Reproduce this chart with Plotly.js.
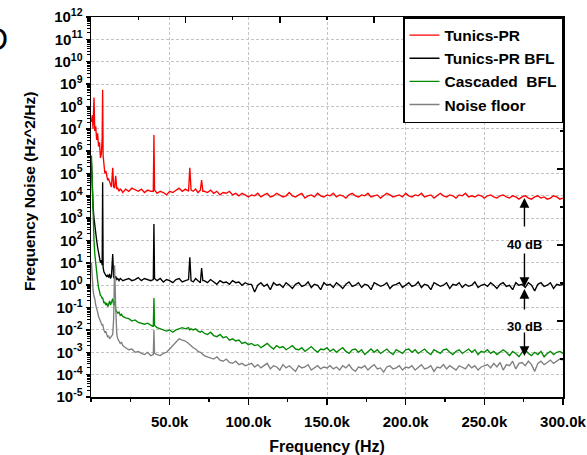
<!DOCTYPE html>
<html>
<head>
<meta charset="utf-8">
<script src="https://cdn.plot.ly/plotly-3.0.1.min.js"></script>
<style>html,body{margin:0;padding:0;background:#fff;}#chart{width:587px;height:455px;}</style>
</head>
<body>
<div id="chart"></div>
<script>
// Frequency axis (kHz)
const freqKHz = [
  0.3,0.8,1.3,1.9,2.4,3.0,3.6,4.2,4.8,5.4,6.0,6.6,7.1,7.4,7.7,8.2,8.8,9.4,10.0,10.6,11.2,11.8,12.4,13.0,13.8,14.4,15.0,15.7,16.4,17.0,17.8,18.6,19.4,20.2,
  22,24,26,28,30,32,34,36,38,
  39.6,40,40.4,
  42,44,46,48,50,52,54,56,58,60,
  62,62.8,63.6,
  65,66.5,68,69.5,
  70.3,71.1,
  72,74,76,78,80,82,84,86,88,90,92,94,96,98,100,
  102,104,106,108,110,112,114,116,118,120,122,124,126,128,130,132,134,136,138,140,142,144,146,148,150,
  152,154,156,158,160,162,164,166,168,170,172,174,176,178,180,182,184,186,188,190,192,194,196,198,200,
  202,204,206,208,210,212,214,216,218,220,222,224,226,228,230,232,234,236,238,240,242,244,246,248,250,
  252,254,256,258,260,262,264,266,268,270,272,274,276,278,280,282,284,286,288,290,292,294,296,298,300
];

const tunicsPR = [
  2e7,4e7,1e7,2.5e8,7.9e6,1.3e7,3.2e6,6.3e6,1.6e6,2.5e6,5e5,7.9e5,4e6,5.6e8,6.3e5,2e5,1e5,1.3e5,7.9e4,5e4,5.6e4,4e4,3.5e4,2.5e4,1.8e5,2.5e4,2.2e4,7.9e4,2e4,2.2e4,1.6e4,2e4,1.8e4,1.4e4,
  2e4,1.6e4,2.2e4,1.8e4,1.6e4,2e4,1.4e4,1.8e4,1.6e4,
  1.6e4,5.2e6,1.8e4,
  1.3e4,1.6e4,1.4e4,1.1e4,1.6e4,1.4e4,1.8e4,2.2e4,1.6e4,2e4,
  1.6e4,1.8e5,1.8e4,
  1.6e4,2e4,1.4e4,1.8e4,
  5.1e4,1.6e4,
  1.6e4,1.4e4,1.8e4,1.3e4,1.6e4,1.1e4,1.4e4,1.3e4,1.6e4,1.1e4,1.3e4,1e4,1.3e4,1.1e4,8.9e3,
  1.1e4,1e4,1.3e4,8.9e3,1.1e4,1.3e4,8.9e3,1e4,1.3e4,1.1e4,8.9e3,1e4,1.4e4,1e4,8.9e3,1.1e4,1.3e4,7.9e3,1e4,1.1e4,8.9e3,1.3e4,1e4,8.9e3,1.1e4,
  1e4,1.3e4,8.9e3,1.1e4,1e4,7.9e3,1.1e4,1.3e4,1e4,8.9e3,1.1e4,1e4,1.3e4,8.9e3,1e4,1.1e4,7.9e3,1e4,1.3e4,1.1e4,8.9e3,1e4,1.1e4,8.9e3,1.3e4,
  1e4,8.9e3,1.1e4,1e4,1.3e4,8.9e3,1e4,1.1e4,7.9e3,1e4,1.3e4,1e4,8.9e3,1.1e4,1e4,7.9e3,1.1e4,1e4,1.3e4,8.9e3,1e4,8.9e3,1.1e4,1e4,7.9e3,
  1e4,1.1e4,8.9e3,7.9e3,1e4,1.1e4,8.9e3,7.9e3,1e4,8.9e3,7.1e3,8.9e3,1e4,7.9e3,7.1e3,8.9e3,1e4,7.9e3,8.9e3,7.1e3,7.9e3,1e4,8.9e3,7.1e3,7.9e3
];

const tunicsBFL = [
  3.2e5,2e4,3.2e3,1e3,400,200,100,50,32,16,10,13,7.9,4e4,6.3,4,3.2,2.8,2.5,2.8,2.2,3.2,2,2.5,25,2.2,2,2.5,1.8,2,1.6,2,1.8,1.6,
  1.8,2,1.6,1.8,2.2,1.6,2,1.8,1.6,
  1.8,550,2,
  1.6,2,1.4,1.8,1.6,1.3,1.8,2,1.4,1.6,
  1.8,18,1.6,
  1.4,2,1.6,1.3,
  5.9,1.6,
  1.6,1.3,1.8,1.4,1.1,1.6,1.3,1.4,1.1,1.6,1.3,1.4,1,1.3,1.1,
  1.1,0.5,1,1.3,0.89,1.1,0.63,1.3,1,1.1,0.79,1.3,1,0.71,1.1,1.3,0.89,1,1.4,0.79,1.1,1,0.63,1.3,1,
  1.1,0.79,1.3,1,0.71,1.1,1.4,0.89,1,1.3,0.79,1.1,1,0.63,1.3,1.1,0.89,1,1.3,0.71,1,1.1,1.3,0.79,1,
  1.3,0.89,1,1.4,0.79,1.1,1,0.63,1.3,1.1,0.89,1,1.3,0.71,1.1,1,1.3,0.79,1.1,0.89,1,1.4,0.79,1,1.1,
  0.89,1.3,1,0.71,1.1,1.3,0.89,1,0.63,1.3,1,1.1,0.79,1.3,1,0.56,1.1,1.3,0.89,1,1.3,0.71,1.1,1,1.1
];

const cascadedBFL = [
  6.3e5,1.6e4,630,100,25,7.9,3.2,1.6,0.79,0.5,0.35,0.32,0.25,0.28,0.2,0.16,0.18,0.13,0.16,0.11,0.14,0.2,0.13,0.16,0.25,0.13,0.2,0.079,0.063,0.056,0.063,0.045,0.05,0.04,
  0.035,0.032,0.025,0.028,0.022,0.02,0.018,0.02,0.016,
  0.014,0.27,0.016,
  0.0126,0.0112,0.01,0.0089,0.01,0.0079,0.01,0.0112,0.0126,0.0112,
  0.0126,0.01,0.0112,
  0.01,0.0112,0.0089,0.0079,
  0.0089,0.0079,
  7.1e-3,6.3e-3,7.9e-3,5.6e-3,5e-3,6.3e-3,4.5e-3,5e-3,3.5e-3,4e-3,3.2e-3,3.5e-3,2.5e-3,2.8e-3,2.2e-3,
  2.5e-3,2e-3,2.2e-3,1.6e-3,2e-3,2.5e-3,1.8e-3,1.4e-3,2e-3,1.6e-3,1.8e-3,1.3e-3,1.6e-3,2e-3,1.4e-3,1.3e-3,1.6e-3,1.1e-3,1.4e-3,1.8e-3,1.3e-3,1e-3,1.4e-3,1.3e-3,1.6e-3,
  1.1e-3,1.4e-3,1e-3,1.3e-3,1.6e-3,1.1e-3,8.9e-4,1.3e-3,1.4e-3,1e-3,1.3e-3,7.9e-4,1.1e-3,1.4e-3,1e-3,1.3e-3,8.9e-4,1.1e-3,1.4e-3,1e-3,7.9e-4,1.3e-3,1.1e-3,8.9e-4,1.3e-3,
  1.4e-3,1e-3,1.3e-3,8.9e-4,1.1e-3,1.4e-3,1e-3,7.9e-4,1.3e-3,1.1e-3,8.9e-4,1.3e-3,1.4e-3,1e-3,7.9e-4,1.1e-3,1.3e-3,8.9e-4,1.1e-3,1.4e-3,1e-3,1.3e-3,7.9e-4,1.1e-3,1e-3,
  1.3e-3,8.9e-4,1.1e-3,7.9e-4,1e-3,1.3e-3,1e-3,7.1e-4,1.1e-3,8.9e-4,6.3e-4,1e-3,1.3e-3,8.9e-4,7.1e-4,1e-3,7.9e-4,1.1e-3,6.3e-4,8.9e-4,1.1e-3,7.9e-4,1e-3,1.1e-3,8.9e-4
];

const noiseFloor = [
  10,2,0.63,0.32,0.25,0.13,0.1,0.063,0.04,0.032,0.025,0.02,0.016,0.018,0.013,0.01,7.9e-3,8.9e-3,6.3e-3,5e-3,5.6e-3,4e-3,4.5e-3,5e-3,6.3e-3,0.032,7.9,0.1,6.3e-3,4e-3,3.2e-3,2.5e-3,2.8e-3,2e-3,
  1.6e-3,1.3e-3,1.4e-3,1e-3,1.1e-3,8.9e-4,7.9e-4,1e-3,7.1e-4,
  7.9e-4,1e-2,8.9e-4,
  7.9e-4,7.1e-4,8.9e-4,1e-3,1.4e-3,2e-3,2.8e-3,4e-3,3.5e-3,3.2e-3,
  2.5e-3,2.2e-3,2e-3,
  1.6e-3,1.4e-3,1.1e-3,1e-3,
  8.9e-4,7.9e-4,
  7.1e-4,6.3e-4,5.6e-4,5e-4,6.3e-4,4.5e-4,4e-4,5e-4,3.5e-4,3.2e-4,4e-4,2.8e-4,3.2e-4,2.5e-4,2.8e-4,
  3.2e-4,2.2e-4,2.8e-4,2e-4,2.5e-4,3.2e-4,1.8e-4,2.5e-4,2.2e-4,1.6e-4,2.8e-4,2e-4,2.5e-4,1.8e-4,1.4e-4,2.5e-4,2e-4,2.2e-4,2.8e-4,1.6e-4,2e-4,2.5e-4,1.8e-4,2.2e-4,2e-4,
  2.5e-4,1.8e-4,2.2e-4,1.6e-4,2.5e-4,2e-4,2.8e-4,1.8e-4,1.4e-4,2.2e-4,2e-4,2.5e-4,1.6e-4,2.2e-4,2.8e-4,1.8e-4,2e-4,1.3e-4,2.2e-4,2.5e-4,1.8e-4,2e-4,2.5e-4,1.6e-4,2.2e-4,
  2e-4,2.5e-4,1.6e-4,2.2e-4,2.8e-4,1.8e-4,2e-4,2.5e-4,1.4e-4,2.2e-4,2e-4,2.8e-4,1.8e-4,2.5e-4,2e-4,1.6e-4,2.5e-4,2.2e-4,1.8e-4,2.8e-4,2e-4,2.5e-4,1.6e-4,2.2e-4,2.5e-4,
  2.8e-4,2e-4,3.2e-4,2.2e-4,3.5e-4,1.6e-4,2.8e-4,2.5e-4,4e-4,1.8e-4,3.2e-4,3.5e-4,2.5e-4,4e-4,2.8e-4,1.4e-4,3.2e-4,4e-4,2.8e-4,3.5e-4,4.5e-4,3.2e-4,4e-4,5e-4,4.5e-4
];

const seriesNames = ['Tunics-PR', 'Tunics-PR BFL', 'Cascaded\u00a0 BFL', 'Noise floor'];
const seriesColors = ['#ff0000', '#000000', '#008a00', '#808080'];
const seriesValues = [tunicsPR, tunicsBFL, cascadedBFL, noiseFloor];

const xTickVals = [50, 100, 150, 200, 250, 300];
const xTickText = ['50.0k', '100.0k', '150.0k', '200.0k', '250.0k', '300.0k'];
const yTickVals = [1e-5,1e-4,1e-3,1e-2,1e-1,1e0,1e1,1e2,1e3,1e4,1e5,1e6,1e7,1e8,1e9,1e10,1e11,1e12];
const yTickText = ['10<sup>-5</sup>','10<sup>-4</sup>','10<sup>-3</sup>','10<sup>-2</sup>','10<sup>-1</sup>','10<sup>0</sup>',
  '10<sup>1</sup>','10<sup>2</sup>','10<sup>3</sup>','10<sup>4</sup>','10<sup>5</sup>','10<sup>6</sup>','10<sup>7</sup>',
  '10<sup>8</sup>','10<sup>9</sup>','10<sup>10</sup>','10<sup>11</sup>','10<sup>12</sup>'];

// dB markers: arrow x position (kHz) and labels
const markerX = 275.5;
const dbLabels = ['40 dB', '30 dB'];

const FONT = '"Liberation Sans", Arial, Helvetica, sans-serif';

const traces = seriesValues.map((vals, i) => ({
  type: 'scatter', mode: 'lines',
  x: freqKHz, y: vals, name: seriesNames[i],
  line: {color: seriesColors[i], width: 1.35},
  hoverinfo: 'skip'
}));
traces.push({type: 'scatter', mode: 'lines', x: [], y: [], xaxis: 'x2', yaxis: 'y2', showlegend: false, hoverinfo: 'skip'});

const arrowCommon = {xref: 'x', yref: 'y', axref: 'pixel', ayref: 'pixel', text: '', showarrow: true,
  arrowhead: 2, arrowsize: 1.4, arrowwidth: 1.4, arrowcolor: '#000', ax: 0};

const layout = {
  width: 587, height: 455,
  margin: {l: 91, r: 24, t: 17, b: 58, pad: 0},
  paper_bgcolor: '#fff', plot_bgcolor: '#fff',
  font: {family: FONT, color: '#000', size: 14},
  showlegend: true,
  legend: {x: 1, xanchor: 'right', y: 1, yanchor: 'top', bgcolor: '#fff', bordercolor: '#000', borderwidth: 1.5,
    font: {family: FONT, size: 15.5, weight: 'bold', color: '#000'}, tracegroupgap: 0},
  xaxis: {
    range: [0, 300], tickmode: 'array', tickvals: xTickVals, ticktext: xTickText,
    ticks: 'outside', ticklen: 6, tickwidth: 1.5, tickcolor: '#000',
    showline: true, linewidth: 1.5, linecolor: '#000', mirror: true,
    showgrid: true, gridcolor: '#c4c4c4', gridwidth: 1, griddash: '3px,2px', zeroline: false,
    tickfont: {family: FONT, size: 15, weight: 'bold'}, ticklabelstandoff: 4,
    minor: {tickmode: 'linear', tick0: 0, dtick: 25, ticks: 'outside', ticklen: 3, tickwidth: 1.2, tickcolor: '#000', showgrid: false},
    title: {text: 'Frequency (Hz)', font: {family: FONT, size: 16, weight: 'bold'}, standoff: 17}
  },
  yaxis: {
    type: 'log', range: [-5, 12], tickmode: 'array', tickvals: yTickVals, ticktext: yTickText,
    ticks: 'outside', ticklen: 4, tickwidth: 1.5, tickcolor: '#000',
    showline: true, linewidth: 1.5, linecolor: '#000', mirror: true,
    showgrid: true, gridcolor: '#c4c4c4', gridwidth: 1, griddash: '3px,2px', zeroline: false,
    tickfont: {family: FONT, size: 15, weight: 'bold'},
    minor: {dtick: 'D1', ticks: 'outside', ticklen: 2.5, tickwidth: 1, tickcolor: '#000', showgrid: false}
  },
  xaxis2: {
    overlaying: 'x', anchor: 'y2', side: 'top', range: [0, 300], tickmode: 'linear', tick0: 0, dtick: 60,
    ticks: 'inside', ticklen: 6, tickwidth: 1.5, tickcolor: '#000', showticklabels: false,
    showgrid: false, showline: false, zeroline: false,
    minor: {tickmode: 'linear', tick0: 0, dtick: 30, ticks: 'inside', ticklen: 3, tickwidth: 1.2, tickcolor: '#000', showgrid: false}
  },
  yaxis2: {
    overlaying: 'y', anchor: 'x2', side: 'right', range: [0, 10], tickmode: 'linear', tick0: 0, dtick: 2,
    ticks: 'inside', ticklen: 6, tickwidth: 1.5, tickcolor: '#000', showticklabels: false,
    showgrid: false, showline: false, zeroline: false,
    minor: {tickmode: 'linear', tick0: 0, dtick: 1, ticks: 'inside', ticklen: 3, tickwidth: 1.2, tickcolor: '#000', showgrid: false}
  },
  annotations: [
    {xref: 'paper', yref: 'paper', x: -0.1314, y: 0.542, text: 'Frequency Noise (Hz^2/Hz)', textangle: -90,
      showarrow: false, xanchor: 'center', yanchor: 'middle', font: {family: FONT, size: 15.5, weight: 'bold'}},
    {xref: 'paper', yref: 'paper', x: -0.1716, y: 0.942, text: 'D', showarrow: false, xanchor: 'right', yanchor: 'middle',
      font: {family: FONT, size: 32}},
    {xref: 'x', yref: 'y', x: markerX, y: 1.83, text: dbLabels[0], showarrow: false, font: {family: FONT, size: 13, weight: 'bold'}},
    {xref: 'x', yref: 'y', x: markerX, y: -1.83, text: dbLabels[1], showarrow: false, font: {family: FONT, size: 13, weight: 'bold'}},
    Object.assign({}, arrowCommon, {x: markerX, y: 3.9, ay: 30}),
    Object.assign({}, arrowCommon, {x: markerX, y: -0.08, ay: -35}),
    Object.assign({}, arrowCommon, {x: markerX, y: -0.17, ay: 22}),
    Object.assign({}, arrowCommon, {x: markerX, y: -3.17, ay: -25})
  ]
};

Plotly.newPlot('chart', traces, layout, {displayModeBar: false, staticPlot: true});
</script>
</body>
</html>
